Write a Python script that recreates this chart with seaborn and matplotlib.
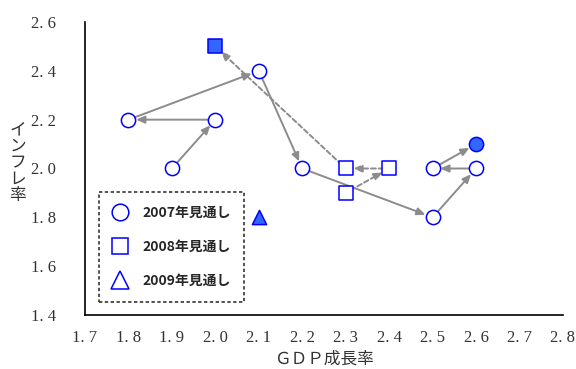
import matplotlib
matplotlib.use("Agg")
import matplotlib.pyplot as plt
from matplotlib.lines import Line2D
import seaborn as sns
import pandas as pd

sns.set_style("white")
plt.rcParams["font.family"] = ["Noto Sans CJK JP", "DejaVu Sans"]

# 2007 outlook path (GDP growth, inflation), in order of revision
gdp_2007 = [1.9, 2.0, 1.8, 2.1, 2.2, 2.5, 2.6, 2.5, 2.6]
inf_2007 = [2.0, 2.2, 2.2, 2.4, 2.0, 1.8, 2.0, 2.0, 2.1]
# 2008 outlook path
gdp_2008 = [2.3, 2.4, 2.3, 2.0]
inf_2008 = [1.9, 2.0, 2.0, 2.5]
# 2009 outlook
gdp_2009 = [2.1]
inf_2009 = [1.8]

legend_labels = ["2007年見通し", "2008年見通し", "2009年見通し"]
x_ticks = [1.7, 1.8, 1.9, 2.0, 2.1, 2.2, 2.3, 2.4, 2.5, 2.6, 2.7, 2.8]
y_ticks = [1.4, 1.6, 1.8, 2.0, 2.2, 2.4, 2.6]

BLUE = "#0000FF"
FILL = "#3366FF"
GRAY = "#8C8C8C"
MS = 105

fig = plt.figure(figsize=(5.76, 3.69), dpi=100)
ax = fig.add_axes([85 / 576, 1 - 315 / 369, (563 - 85) / 576, (315 - 22) / 369])


def path_arrows(xs, ys, style):
    for i in range(len(xs) - 1):
        ax.annotate(
            "", xy=(xs[i + 1], ys[i + 1]), xytext=(xs[i], ys[i]),
            arrowprops=dict(arrowstyle="-|>,head_length=0.5,head_width=0.22",
                            color=GRAY, lw=1.4, linestyle=style,
                            shrinkA=4, shrinkB=5.5),
            zorder=2,
        )


path_arrows(gdp_2007, inf_2007, "-")
path_arrows(gdp_2008, inf_2008, (0, (2.5, 1.5)))

df07 = pd.DataFrame({"x": gdp_2007, "y": inf_2007})
df08 = pd.DataFrame({"x": gdp_2008, "y": inf_2008})
df09 = pd.DataFrame({"x": gdp_2009, "y": inf_2009})

# earlier outlooks hollow, latest outlook filled
sns.scatterplot(data=df07.iloc[:-1], x="x", y="y", ax=ax, marker="o", s=MS,
                facecolor="white", edgecolor=BLUE, linewidth=1.1, zorder=3)
sns.scatterplot(data=df07.iloc[-1:], x="x", y="y", ax=ax, marker="o", s=MS,
                facecolor=FILL, edgecolor=BLUE, linewidth=1.1, zorder=3)
sns.scatterplot(data=df08.iloc[:-1], x="x", y="y", ax=ax, marker="s", s=MS,
                facecolor="white", edgecolor=BLUE, linewidth=1.1, zorder=3)
sns.scatterplot(data=df08.iloc[-1:], x="x", y="y", ax=ax, marker="s", s=MS,
                facecolor=FILL, edgecolor=BLUE, linewidth=1.1, zorder=3)
sns.scatterplot(data=df09, x="x", y="y", ax=ax, marker="^", s=MS,
                facecolor=FILL, edgecolor=BLUE, linewidth=1.1, zorder=3)

ax.set_xlim(1.7, 2.8)
ax.set_ylim(1.4, 2.6)
ax.set_xticks(x_ticks)
ax.set_yticks(y_ticks)
tick_font = dict(family="Liberation Serif", size=12)
ax.set_xticklabels([f"{v:.1f}".replace(".", ". ") for v in x_ticks], **tick_font)
ax.set_yticklabels([f"{v:.1f}".replace(".", ". ") for v in y_ticks], **tick_font)
ax.tick_params(direction="in", length=4, width=1, colors="black")
ax.tick_params(axis="y", pad=21)
ax.tick_params(axis="x", pad=11)
for lbl in ax.get_xticklabels() + ax.get_yticklabels():
    lbl.set_color("#333333")
for side in ["top", "right"]:
    ax.spines[side].set_visible(False)
for side in ["left", "bottom"]:
    ax.spines[side].set_color("black")
    ax.spines[side].set_linewidth(1.2)

ax.set_xlabel("ＧＤＰ成長率", fontsize=12, color="#333333", labelpad=3)
ax.set_ylabel("")
fig.text(18 / 576, 1 - 163 / 369, "イ\nン\nフ\nレ\n率", ha="center", va="center",
         fontsize=12, color="#333333", linespacing=0.95)

handles = [
    Line2D([], [], marker="o", linestyle="", markersize=12, markerfacecolor="white",
           markeredgecolor=BLUE, markeredgewidth=1.1),
    Line2D([], [], marker="s", linestyle="", markersize=12, markerfacecolor="white",
           markeredgecolor=BLUE, markeredgewidth=1.1),
    Line2D([], [], marker="^", linestyle="", markersize=13, markerfacecolor="white",
           markeredgecolor=BLUE, markeredgewidth=1.1),
]
leg = ax.legend(handles, legend_labels, loc="lower left",
                bbox_to_anchor=((99 - 85) / 478, (315 - 302) / 293),
                frameon=True, fancybox=False, borderpad=1.0, labelspacing=1.45,
                handletextpad=1.1, handlelength=1.0, borderaxespad=0,
                prop=dict(family="Noto Sans CJK JP", weight="bold", size=10))
frame = leg.get_frame()
frame.set_edgecolor("black")
frame.set_linestyle((0, (2, 1.5)))
frame.set_linewidth(1.2)

fig.savefig("out.png", dpi=100, facecolor="white")
